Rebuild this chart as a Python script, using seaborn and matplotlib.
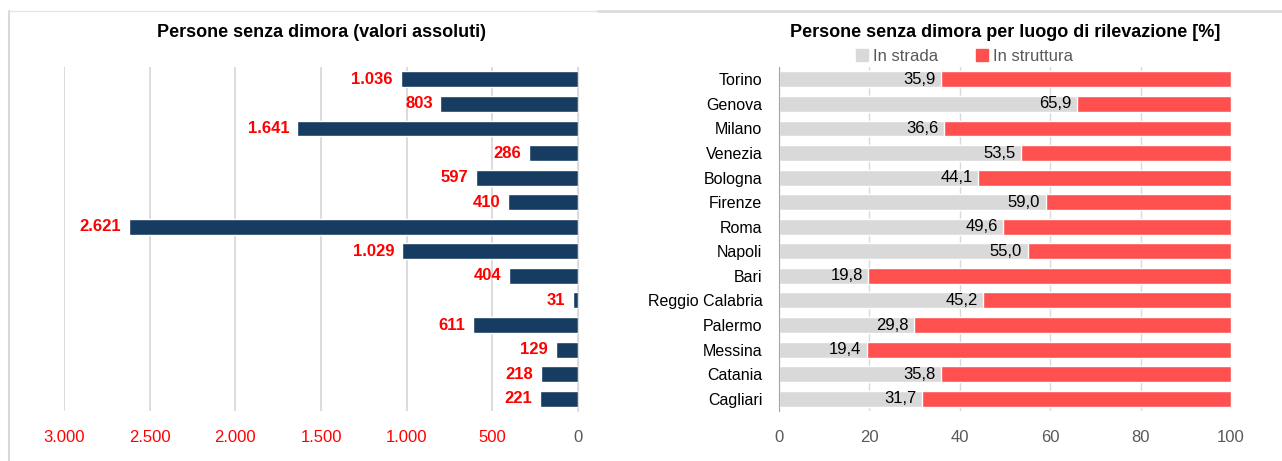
import numpy as np
import pandas as pd
import matplotlib
matplotlib.use('Agg')
import matplotlib.pyplot as plt
from matplotlib.lines import Line2D
from matplotlib.patches import Patch
import seaborn as sns

sns.set_style("white")
plt.rcParams['font.family'] = ['Liberation Sans Narrow', 'Liberation Sans', 'DejaVu Sans']
plt.rcParams['text.color'] = 'black'
plt.rcParams['ytick.color'] = 'black'

# data
cities = ['Torino', 'Genova', 'Milano', 'Venezia', 'Bologna', 'Firenze', 'Roma',
          'Napoli', 'Bari', 'Reggio Calabria', 'Palermo', 'Messina', 'Catania', 'Cagliari']
absolute = [1036, 803, 1641, 286, 597, 410, 2621, 1029, 404, 31, 611, 129, 218, 221]
in_strada = [35.9, 65.9, 36.6, 53.5, 44.1, 59.0, 49.6, 55.0, 19.8, 45.2, 29.8, 19.4, 35.8, 31.7]
abs_ticks = [0, 500, 1000, 1500, 2000, 2500, 3000]
pct_ticks = [0, 20, 40, 60, 80, 100]

navy = '#173c61'
red = '#ff5050'
grey = '#d9d9d9'
grid_c = '#d9d9d9'

df = pd.DataFrame({'city': cities, 'abs': absolute, 'strada': in_strada})
df['totale'] = 100.0

fig = plt.figure(figsize=(12.82, 4.61), dpi=100)
ax1 = fig.add_axes([0.0499, 0.1085, 0.401, 0.746])
ax2 = fig.add_axes([0.6076, 0.1085, 0.3526, 0.746])

# left panel: absolute values
sns.barplot(data=df, x='abs', y='city', color=navy, width=0.65, ax=ax1, saturation=1)
ax1.set_xlim(3000, 0)
ax1.set_xticks(abs_ticks)
ax1.set_xticklabels([format(t, ',').replace(',', '.') for t in abs_ticks])
for lab in ax1.get_xticklabels():
    lab.set_color('#595959' if lab.get_text() == '0' else 'red')
ax1.set_yticks([])
ax1.set_xlabel('')
ax1.set_ylabel('')
ax1.grid(axis='x', color=grid_c, lw=1.3)
ax1.set_axisbelow(True)
for s in ['top', 'left', 'bottom']:
    ax1.spines[s].set_visible(False)
ax1.spines['right'].set_color(grid_c)
ax1.tick_params(axis='x', length=0, pad=14, labelsize=12)
for i, v in enumerate(absolute):
    ax1.text(v + 45, i, format(v, ',').replace(',', '.'), ha='right', va='center',
             color='red', fontsize=12, fontweight='bold')
ax1.set_title('Persone senza dimora (valori assoluti)', fontsize=13, fontweight='bold',
              pad=22, color='black')

# right panel: percentages
sns.barplot(data=df, x='totale', y='city', color=red, width=0.65, ax=ax2, saturation=1)
sns.barplot(data=df, x='strada', y='city', color=grey, width=0.65, ax=ax2, saturation=1)
ax2.set_xlim(0, 100)
ax2.set_xticks(pct_ticks)
ax2.set_xlabel('')
ax2.set_ylabel('')
ax2.grid(axis='x', color=grid_c, lw=1)
ax2.set_axisbelow(True)
for s in ['top', 'right', 'bottom']:
    ax2.spines[s].set_visible(False)
ax2.spines['left'].set_color('#a6a6a6')
ax2.tick_params(axis='x', length=0, pad=14, labelsize=12, labelcolor='#595959')
ax2.tick_params(axis='y', length=0, pad=12, labelsize=11.5, labelcolor='black')
ax2.set_yticks(np.arange(-0.5, len(cities), 1.0), minor=True)
ax2.tick_params(axis='y', which='minor', length=4, color='#a6a6a6', direction='out')
for i, v in enumerate(in_strada):
    ax2.text(v - 1.2, i, format(v, '.1f').replace('.', ','), ha='right', va='center',
             color='black', fontsize=12)
ax2.set_title('Persone senza dimora per luogo di rilevazione [%]', fontsize=13,
              fontweight='bold', pad=22, color='black')
handles = [Patch(color=grey, label='In strada'), Patch(color=red, label='In struttura')]
leg = ax2.legend(handles=handles, loc='lower center', bbox_to_anchor=(0.41, 0.985), ncol=2,
                 frameon=False, fontsize=12, handlelength=0.7, handleheight=0.7,
                 handletextpad=0.3, columnspacing=2.3, borderpad=0)
for t in leg.get_texts():
    t.set_color('#595959')

# outer frame lines
fig.add_artist(Line2D([9 / 1282, 9 / 1282], [0, 1 - 11 / 461], color='#d9d9d9', lw=1.5))
fig.add_artist(Line2D([9 / 1282, 598 / 1282], [1 - 11 / 461, 1 - 11 / 461], color='#e6e6e6', lw=1))
fig.add_artist(Line2D([598 / 1282, 1], [1 - 11 / 461, 1 - 11 / 461], color='#d9d9d9', lw=1.8))

fig.savefig('out.png', dpi=100)
